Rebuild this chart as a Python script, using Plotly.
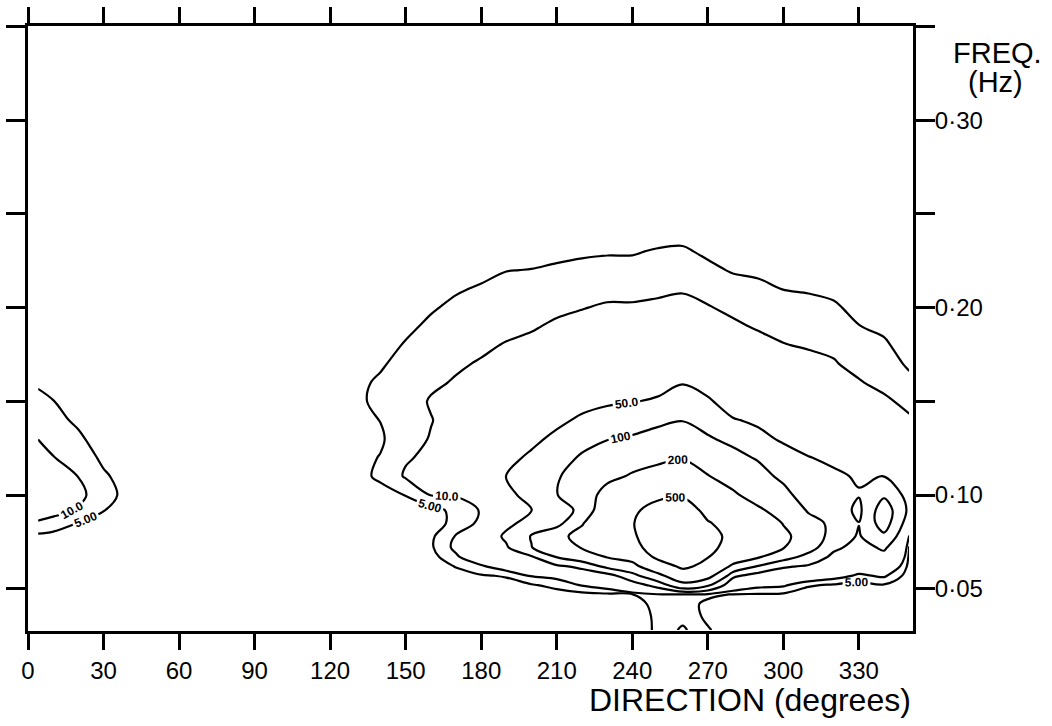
import plotly.graph_objects as go

# Grid of the directional wave spectrum: directions (degrees) and frequencies (Hz)
DIRECTIONS = [4, 10, 20, 30, 40, 50, 60, 70, 80, 90, 100, 110, 120, 130, 140, 150,
              160, 170, 180, 190, 200, 210, 220, 230, 240, 250, 260, 270, 280, 290,
              300, 310, 320, 330, 340, 350]

FREQUENCIES = [0.028, 0.035, 0.042, 0.047, 0.052, 0.057, 0.062, 0.067, 0.072,
               0.078, 0.085, 0.092, 0.100, 0.110, 0.120, 0.130, 0.140, 0.150,
               0.160, 0.170, 0.180, 0.190, 0.200, 0.210, 0.220, 0.230, 0.240]

# Spectral density along frequency (low -> high) for each direction
ENERGY_BY_DIRECTION = [
    [0, 0.05, 0.1, 0.2, 0.3, 0.5, 0.8, 1.3, 2.2, 4, 9, 14, 16, 15, 12.5, 9.9, 7.8, 6, 4.5, 3, 2, 1.2, 0.6, 0.3, 0.1, 0, 0],
    [0, 0.05, 0.1, 0.15, 0.25, 0.4, 0.7, 1.1, 2, 3.6, 7.5, 12.5, 14.5, 13, 10.2, 8, 6.3, 5.1, 3.8, 2.5, 1.6, 0.9, 0.4, 0.2, 0.1, 0, 0],
    [0, 0.03, 0.06, 0.1, 0.18, 0.3, 0.5, 0.8, 1.3, 2.5, 4.8, 9.5, 11.5, 9.9, 7.8, 5.8, 4.2, 3, 2, 1.2, 0.7, 0.3, 0.1, 0, 0, 0, 0],
    [0, 0.02, 0.04, 0.07, 0.12, 0.2, 0.35, 0.55, 0.9, 1.5, 3, 5.2, 6.8, 5.7, 4, 2.8, 1.8, 1.1, 0.6, 0.3, 0.1, 0, 0, 0, 0, 0, 0],
    [0, 0.01, 0.02, 0.04, 0.06, 0.1, 0.18, 0.3, 0.5, 0.8, 1.5, 2.8, 3.5, 3, 2, 1.3, 0.8, 0.5, 0.3, 0.1, 0, 0, 0, 0, 0, 0, 0],
    [0, 0, 0, 0, 0, 0, 0, 0, 0, 0, 0, 0, 0, 0, 0, 0, 0, 0, 0, 0, 0, 0, 0, 0, 0, 0, 0],
    [0, 0, 0, 0, 0, 0, 0, 0, 0, 0, 0, 0, 0, 0, 0, 0, 0, 0, 0, 0, 0, 0, 0, 0, 0, 0, 0],
    [0, 0, 0, 0, 0, 0, 0, 0, 0, 0, 0, 0, 0, 0, 0, 0, 0, 0, 0, 0, 0, 0, 0, 0, 0, 0, 0],
    [0, 0, 0, 0, 0, 0, 0, 0, 0, 0, 0, 0, 0, 0, 0, 0, 0, 0, 0, 0, 0, 0, 0, 0, 0, 0, 0],
    [0, 0, 0, 0, 0, 0, 0, 0, 0, 0, 0, 0, 0, 0, 0, 0, 0, 0, 0, 0, 0, 0, 0, 0, 0, 0, 0],
    [0, 0, 0, 0, 0, 0, 0, 0, 0, 0, 0, 0, 0, 0, 0, 0, 0, 0, 0, 0, 0, 0, 0, 0, 0, 0, 0],
    [0, 0, 0, 0, 0, 0, 0, 0, 0, 0, 0, 0, 0, 0, 0, 0, 0, 0, 0, 0, 0, 0, 0, 0, 0, 0, 0],
    [0, 0, 0, 0, 0, 0, 0, 0, 0, 0, 0, 0, 0, 0, 0, 0, 0, 0, 0, 0, 0, 0, 0, 0, 0, 0, 0],
    [0, 0, 0.02, 0.05, 0.08, 0.12, 0.2, 0.3, 0.45, 0.7, 1, 1.6, 2.5, 3.9, 3.6, 3.2, 3.6, 4.3, 4.2, 3.3, 2.4, 1.6, 0.9, 0.5, 0.2, 0.1, 0],
    [0.01, 0.02, 0.05, 0.1, 0.15, 0.25, 0.4, 0.6, 0.9, 1.2, 1.6, 2.4, 3.8, 5.6, 5.2, 4.4, 5.1, 5.8, 5.5, 4.6, 3.6, 2.5, 1.5, 0.8, 0.4, 0.2, 0.1],
    [0.02, 0.05, 0.1, 0.2, 0.3, 0.5, 0.8, 1.2, 1.8, 2.3, 2.8, 3.5, 5.1, 10.6, 9.5, 8, 7.5, 7.8, 7, 6.2, 5.3, 4.2, 3, 1.8, 0.9, 0.4, 0.2],
    [0.05, 0.1, 0.2, 0.4, 0.7, 1.2, 2, 3, 4.2, 4, 3.5, 3.5, 10.2, 12.5, 11, 10.3, 9.8, 10.4, 9.2, 8, 6.8, 5.7, 4.6, 3.3, 2, 1, 0.4],
    [0.1, 0.2, 0.4, 0.8, 1.5, 3, 5.3, 9, 11.5, 10.5, 6, 6.2, 10.5, 14, 14.5, 13.5, 12, 11, 10.4, 9.4, 8.2, 7, 5.8, 4.6, 3.2, 1.8, 0.8],
    [0.2, 0.4, 0.6, 1.2, 2.2, 4.5, 9, 16, 26, 18, 11.5, 10.5, 14, 20, 21, 18, 15.5, 13, 11.5, 10.4, 9.2, 7.8, 6.6, 5.4, 4, 2.5, 1.2],
    [0.3, 0.5, 0.8, 1.8, 3, 5.5, 14, 30, 45, 58, 40, 38, 44, 50.5, 40, 30, 23, 17.5, 14, 12, 10.3, 8.8, 7.5, 6.2, 4.9, 3.2, 1.5],
    [0.4, 0.6, 1, 2.5, 4.5, 10.5, 22, 45, 98, 104, 65, 49, 58, 65, 56, 42, 30, 22, 16.5, 13.5, 11.2, 9.5, 8, 6.5, 5.1, 3.5, 1.8],
    [0.5, 0.8, 1.5, 3, 6.5, 12, 42, 102, 160, 165, 70, 80, 98, 95, 75, 58, 42, 30, 21, 16, 13, 10.8, 9, 7.5, 5.6, 4, 2],
    [0.8, 1, 2, 3.5, 10.5, 25, 60, 140, 205, 240, 190, 110, 140, 125, 107, 80, 56, 38, 26, 19, 14, 11.5, 9.8, 8, 6, 4.4, 2.3],
    [1, 1.5, 2.5, 4, 14, 32, 115, 205, 260, 300, 320, 300, 240, 175, 125, 98, 65, 45, 30, 21, 15.5, 12.5, 10.6, 8.5, 6.4, 4.6, 2.5],
    [1.5, 2, 3, 4.8, 30, 80, 150, 260, 360, 440, 480, 450, 340, 210, 160, 105, 80, 48, 32, 22, 16, 12.5, 10.6, 8.5, 6.5, 4.6, 2.5],
    [6, 6, 6.5, 9, 65, 150, 330, 560, 700, 760, 720, 600, 440, 240, 175, 125, 85, 55, 35, 24, 17, 13, 11, 9, 7.5, 5.4, 3],
    [11, 8, 7, 9, 150, 330, 560, 720, 800, 820, 780, 650, 470, 290, 190, 130, 98, 68, 48, 30, 20, 15, 11.5, 9.5, 7.5, 5.6, 3.5],
    [5.5, 4, 4, 6, 110, 240, 420, 510, 570, 580, 520, 420, 300, 205, 140, 105, 82, 54, 38, 25, 17, 13, 10.3, 8.5, 6, 4.2, 2.5],
    [2, 2.5, 3.5, 4.8, 18, 60, 160, 320, 400, 440, 400, 300, 215, 160, 115, 88, 52, 36, 24, 17, 13, 10.8, 9, 6.8, 4.6, 2.8, 1.4],
    [1.5, 2, 3, 4.5, 12, 30, 95, 210, 290, 320, 290, 215, 160, 120, 95, 58, 45, 30, 21, 15, 11.6, 9.5, 7.8, 6, 4.2, 2.5, 1.2],
    [1.2, 1.8, 2.8, 4.2, 11, 25, 55, 125, 205, 225, 195, 160, 118, 88, 62, 46, 32, 22, 16, 12.5, 10.2, 8.6, 6.8, 4.9, 3.2, 1.8, 0.8],
    [1, 1.5, 2, 3, 5.5, 17, 45, 80, 125, 145, 125, 92, 70, 58, 51, 38, 27, 19.5, 14.5, 11.5, 9.5, 7.8, 6.2, 4.6, 3, 1.6, 0.7],
    [0.8, 1.2, 2, 2.8, 4.4, 13, 26, 40, 58, 75, 85, 75, 65, 55, 44, 31, 22, 16, 12.5, 10.4, 9, 7.5, 5.6, 4, 2.6, 1.3, 0.5],
    [0.6, 1, 1.6, 2.4, 3, 9, 14, 24, 36, 46, 51, 40, 52, 47, 36, 25, 18, 13.5, 10.4, 8.5, 6.6, 5.1, 3.8, 2.6, 1.6, 0.8, 0.3],
    [0.5, 0.8, 1.3, 2.2, 4.5, 11, 22, 38, 56, 90, 125, 130, 92, 50.5, 36, 24, 16, 11, 8.5, 6.8, 5.6, 4.2, 3, 2, 1.2, 0.6, 0.2],
    [0.3, 0.5, 0.8, 1.3, 2, 2.6, 3.2, 3.8, 4.5, 9, 25, 40, 33, 24, 18, 13.5, 10.8, 8.5, 6, 4.4, 3.2, 2.2, 1.4, 0.8, 0.4, 0.2, 0.1],
]

CONTOUR_LEVELS = [5, 10, 50, 100, 200, 500]
LEVEL_FORMATS = [".2f", ".1f", ".1f", ".0f", ".0f", ".0f"]

X_TICKS = [0, 30, 60, 90, 120, 150, 180, 210, 240, 270, 300, 330]
Y_TICKS = [0.05, 0.10, 0.15, 0.20, 0.25, 0.30, 0.35]
Y_TICK_TEXT = ["0·05", "0·10", "", "0·20", "", "0·30", ""]

FONT = "Liberation Sans, Arial, Helvetica, sans-serif"
INK = [[0, "black"], [1, "black"]]

fig = go.Figure()

# one isoline trace per level so each label keeps its own number format
for level, fmt in zip(CONTOUR_LEVELS, LEVEL_FORMATS):
    fig.add_trace(go.Contour(
        x=DIRECTIONS,
        y=FREQUENCIES,
        z=ENERGY_BY_DIRECTION,
        transpose=True,
        autocontour=False,
        colorscale=INK,
        contours=dict(
            start=level, end=level, size=1,
            coloring="none",
            showlabels=True,
            labelformat=fmt,
            labelfont=dict(family=FONT, size=12, color="black", weight="bold"),
        ),
        line=dict(color="black", width=2.2, smoothing=1),
        showscale=False,
        hoverinfo="skip",
    ))

fig.update_layout(
    width=1052,
    height=726,
    margin=dict(l=28, r=139, t=26, b=95),
    paper_bgcolor="white",
    plot_bgcolor="white",
    showlegend=False,
    font=dict(family=FONT, color="black"),
    xaxis=dict(
        range=[0, 351.5],
        tickvals=X_TICKS,
        ticks="outside", ticklen=16, tickwidth=2.5, tickcolor="black",
        showline=True, linewidth=3, linecolor="black", mirror="ticks",
        showgrid=False, zeroline=False, automargin=False,
        tickfont=dict(family=FONT, size=24, color="black"),
    ),
    yaxis=dict(
        range=[0.0275, 0.3502],
        side="right",
        tickvals=Y_TICKS, ticktext=Y_TICK_TEXT,
        ticks="outside", ticklen=19, tickwidth=2.5, tickcolor="black",
        showline=True, linewidth=3, linecolor="black", mirror="ticks",
        showgrid=False, zeroline=False, automargin=False,
        ticklabelstandoff=-5,
        tickfont=dict(family=FONT, size=24, color="black"),
    ),
    annotations=[
        dict(text="DIRECTION (degrees)", xref="paper", yref="paper",
             x=1.0, y=-0.114, xanchor="right", yanchor="middle",
             showarrow=False, font=dict(family=FONT, size=32, color="black")),
        dict(text="FREQ.", xref="paper", yref="paper",
             x=1.096, y=0.955, xanchor="center", yanchor="middle",
             showarrow=False, font=dict(family=FONT, size=29, color="black")),
        dict(text="(Hz)", xref="paper", yref="paper",
             x=1.093, y=0.907, xanchor="center", yanchor="middle",
             showarrow=False, font=dict(family=FONT, size=29, color="black")),
    ],
)

fig.write_html("out.html")
